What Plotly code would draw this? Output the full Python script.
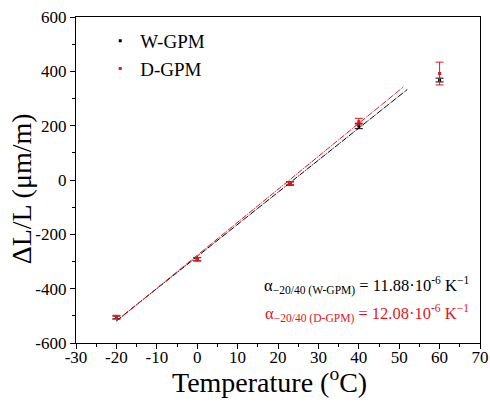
import plotly.graph_objects as go

temp = [-20, 0, 23, 40, 60]
w_val = [-506, -292, -13, 199, 368]
w_err = [5, 6, 6, 10, 7]
d_val = [-505, -291, -11, 215, 392]
d_err = [7, 6, 5, 12, 42]

fit_x_w = [-20, 52]
fit_y_w = [-518, 333]
fit_x_d = [-20, 51]
fit_y_d = [-520, 342]

x_ticks = [-30, -20, -10, 0, 10, 20, 30, 40, 50, 60, 70]
x_ticktext = ["-30", "-20", "-10", "0", "10", "20", "30", "40", "50", "60", "70"]
y_ticks = [-600, -400, -200, 0, 200, 400, 600]
y_ticktext = ["-600", "-400", "-200", "0", "200", "400", "600"]

FONT = "Liberation Serif"
RED = "#e8141c"

fig = go.Figure()
fig.add_trace(go.Scatter(x=fit_x_w, y=fit_y_w, mode="lines", showlegend=False,
                         line=dict(color="black", width=1, dash="6px,1px,1px,1px")))
fig.add_trace(go.Scatter(x=fit_x_d, y=fit_y_d, mode="lines", showlegend=False,
                         line=dict(color=RED, width=1, dash="6px,1px,1px,1px")))
fig.add_trace(go.Scatter(x=temp, y=w_val, mode="markers", name="W-GPM",
                         marker=dict(color="black", size=3, symbol="square"),
                         error_y=dict(type="data", array=w_err, color="black", thickness=1, width=4)))
fig.add_trace(go.Scatter(x=temp, y=d_val, mode="markers", name="D-GPM",
                         marker=dict(color=RED, size=3, symbol="square"),
                         error_y=dict(type="data", array=d_err, color=RED, thickness=1, width=4)))

fig.add_annotation(x=1.0, y=0.175, xref="paper", yref="paper", xanchor="right", yanchor="middle",
                   showarrow=False, xshift=-9,
                   text="α<sub>−20/40 (W-GPM)</sub> = 11.88·10<sup>-6</sup> K<sup>−1</sup>",
                   font=dict(family=FONT, size=16.5, color="black"))
fig.add_annotation(x=1.0, y=0.09, xref="paper", yref="paper", xanchor="right", yanchor="middle",
                   showarrow=False, xshift=-9,
                   text="α<sub>−20/40 (D-GPM)</sub> = 12.08·10<sup>-6</sup> K<sup>−1</sup>",
                   font=dict(family=FONT, size=16.5, color=RED))

# axis titles as annotations for exact placement
fig.add_annotation(x=0.48, y=-0.172, xref="paper", yref="paper", xanchor="center", yanchor="bottom",
                   showarrow=False, borderpad=0,
                   text="Temperature (<sup>o</sup>C)", font=dict(family=FONT, size=28, color="black"))
fig.add_annotation(x=-0.134, y=0.474, xref="paper", yref="paper", xanchor="center", yanchor="middle",
                   showarrow=False, borderpad=0, textangle=-90,
                   text="ΔL/L (μm/m)", font=dict(family=FONT, size=28, color="black"))

axis_common = dict(showline=True, linecolor="black", linewidth=1.2, mirror=True,
                   ticks="outside", ticklen=5, tickwidth=1, tickcolor="black",
                   showgrid=False, zeroline=False,
                   tickfont=dict(family=FONT, size=17, color="black"))

fig.update_xaxes(range=[-30, 70], tickmode="array", tickvals=x_ticks, ticktext=x_ticktext,
                 ticklabelstandoff=-7,
                 minor=dict(ticks="outside", ticklen=3, dtick=5, tick0=-30, tickcolor="black"),
                 **axis_common)
fig.update_yaxes(range=[-600, 600], tickmode="array", tickvals=y_ticks, ticktext=y_ticktext,
                 minor=dict(ticks="outside", ticklen=3, dtick=100, tick0=-600, tickcolor="black"),
                 **axis_common)

fig.update_layout(
    width=490, height=403,
    font=dict(family=FONT, color="black"),
    margin=dict(l=76, r=10, t=17, b=60, autoexpand=False),
    plot_bgcolor="white", paper_bgcolor="white",
    legend=dict(x=0.06, y=0.985, xanchor="left", yanchor="top",
                font=dict(family=FONT, size=19, color="black"),
                bgcolor="rgba(0,0,0,0)", itemsizing="trace", tracegroupgap=0),
)

fig.write_html("out.html", config={"displayModeBar": False},
               post_script="document.body.style.margin='0';document.body.style.overflow='hidden';")
